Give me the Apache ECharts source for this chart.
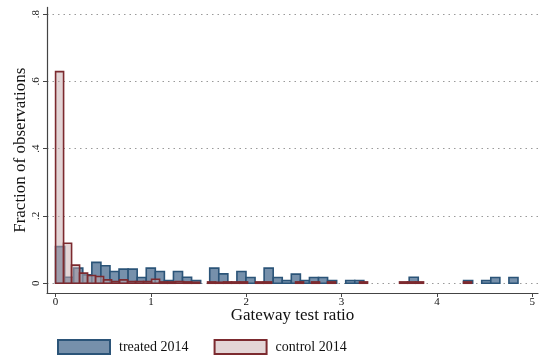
<!DOCTYPE html>
<html>
<head>
<meta charset="utf-8">
<script src="https://cdn.jsdelivr.net/npm/echarts@6/dist/echarts.min.js"></script>
<style>html,body{margin:0;padding:0;background:#fff;}#c{width:539px;height:358px;}</style>
</head>
<body>
<div id="c"></div>
<script>
// ---- data ----
const treatedBinWidth = 0.0951;
const treatedFrac = [
  0.109, 0.018, 0.045, 0.025, 0.062, 0.052, 0.035, 0.042, 0.042, 0.017,
  0.045, 0.035, 0.008, 0.035, 0.018, 0.008, 0,     0.045, 0.028, 0,
  0.035, 0.017, 0,     0.045, 0.017, 0.008, 0.027, 0.008, 0.017, 0.017,
  0.008, 0,     0.008, 0.008, 0,     0,     0,     0,     0,     0.018,
  0,     0,     0,     0,     0,     0.008, 0,     0.008, 0.017, 0,
  0.017
];
const controlBinWidth = 0.0839;
const controlFrac = [
  0.629, 0.119, 0.054, 0.030, 0.023, 0.020, 0.010, 0.005, 0.010, 0.005,
  0.005, 0.005, 0.012, 0.004, 0.004, 0.005, 0.004, 0.003, 0,     0.004,
  0.003, 0.004, 0.004, 0.004, 0,     0.004, 0.004, 0,     0,     0,
  0.004, 0,     0.004, 0,     0.004, 0,     0,     0,     0.004, 0,
  0,     0,     0,     0.004, 0.004, 0.004, 0,     0,     0,     0,
  0,     0.004
];
const xTicks = [0, 1, 2, 3, 4, 5];
const yTicks = [0, 0.2, 0.4, 0.6, 0.8];
const seriesNames = ['treated 2014', 'control 2014'];
const xTitle = 'Gateway test ratio';
const yTitle = 'Fraction of observations';

function toBins(frac, w) {
  const out = [];
  frac.forEach((v, i) => { if (v > 0) out.push([i * w, (i + 1) * w, v]); });
  return out;
}

const FONT = '"Liberation Serif", "Times New Roman", serif';
const treatedStyle = { fill: '#7690ab', stroke: '#2b5478', lineWidth: 1.6 };
const controlStyle = { fill: 'rgba(199,171,173,0.5)', stroke: '#7c2a2f', lineWidth: 1.6 };

function makeRender(st) {
  return function (params, api) {
    const p0 = api.coord([api.value(0), api.value(2)]);
    const p1 = api.coord([api.value(1), 0]);
    return {
      type: 'rect',
      shape: { x: p0[0], y: p0[1], width: p1[0] - p0[0], height: p1[1] - p0[1] },
      style: { fill: st.fill, stroke: st.stroke, lineWidth: st.lineWidth }
    };
  };
}

const chart = echarts.init(document.getElementById('c'), null, { renderer: 'canvas' });
chart.setOption({
  animation: false,
  backgroundColor: '#fff',
  textStyle: { fontFamily: FONT },
  grid: { left: 47, right: 1, top: 7.4, bottom: 65 },
  xAxis: {
    type: 'value', min: -0.09, max: 5.06,
    name: xTitle, nameLocation: 'middle', nameGap: 14, nameMoveOverlap: false,
    nameTextStyle: { fontFamily: FONT, fontSize: 17, color: '#111' },
    axisLine: { show: true, onZero: false, lineStyle: { color: '#444', width: 1.2 } },
    axisTick: { show: true, length: 4, customValues: xTicks, lineStyle: { color: '#444' } },
    axisLabel: { show: true, margin: 4, customValues: xTicks, fontFamily: FONT, fontSize: 11, color: '#111',
      formatter: v => String(v) },
    splitLine: { show: false }
  },
  yAxis: {
    type: 'value', min: -0.029, max: 0.82,
    name: yTitle, nameLocation: 'middle', nameGap: 18, nameRotate: 90, nameMoveOverlap: false,
    nameTextStyle: { fontFamily: FONT, fontSize: 17, color: '#111' },
    axisLine: { show: true, onZero: false, lineStyle: { color: '#444', width: 1.2 } },
    axisTick: { show: true, length: 4, customValues: yTicks, lineStyle: { color: '#444' } },
    axisLabel: { show: true, margin: 5, rotate: 90, customValues: yTicks, fontFamily: FONT, fontSize: 11, color: '#111',
      formatter: v => (v === 0 ? '0' : String(Math.round(v * 10) / 10).replace(/^0/, '')) },
    splitLine: { show: false }
  },
  legend: {
    left: 57, top: 339, orient: 'horizontal', padding: 0,
    itemWidth: 52, itemHeight: 14, itemGap: 25,
    textStyle: { fontFamily: FONT, fontSize: 14, color: '#111', padding: [0, 0, 0, 4] },
    data: [
      { name: seriesNames[0], icon: 'rect', itemStyle: { color: '#7690ab', borderColor: '#2b5478', borderWidth: 2 } },
      { name: seriesNames[1], icon: 'rect', itemStyle: { color: '#e3d5d6', borderColor: '#7c2a2f', borderWidth: 2 } }
    ]
  },
  series: [
    {
      type: 'line', data: [], silent: true, z: 0,
      markLine: {
        silent: true, z: 0, symbol: 'none', label: { show: false },
        lineStyle: { type: [1.5, 4], color: '#9a9a9a', width: 1 },
        data: yTicks.map(v => ({ yAxis: v }))
      }
    },
    {
      name: seriesNames[0], type: 'custom', z: 2,
      renderItem: makeRender(treatedStyle),
      encode: { x: [0, 1], y: 2 },
      itemStyle: { color: '#7690ab', borderColor: '#2b5478' },
      data: toBins(treatedFrac, treatedBinWidth)
    },
    {
      name: seriesNames[1], type: 'custom', z: 3,
      renderItem: makeRender(controlStyle),
      encode: { x: [0, 1], y: 2 },
      itemStyle: { color: '#e3d5d6', borderColor: '#7c2a2f' },
      data: toBins(controlFrac, controlBinWidth)
    }
  ]
});
</script>
</body>
</html>
